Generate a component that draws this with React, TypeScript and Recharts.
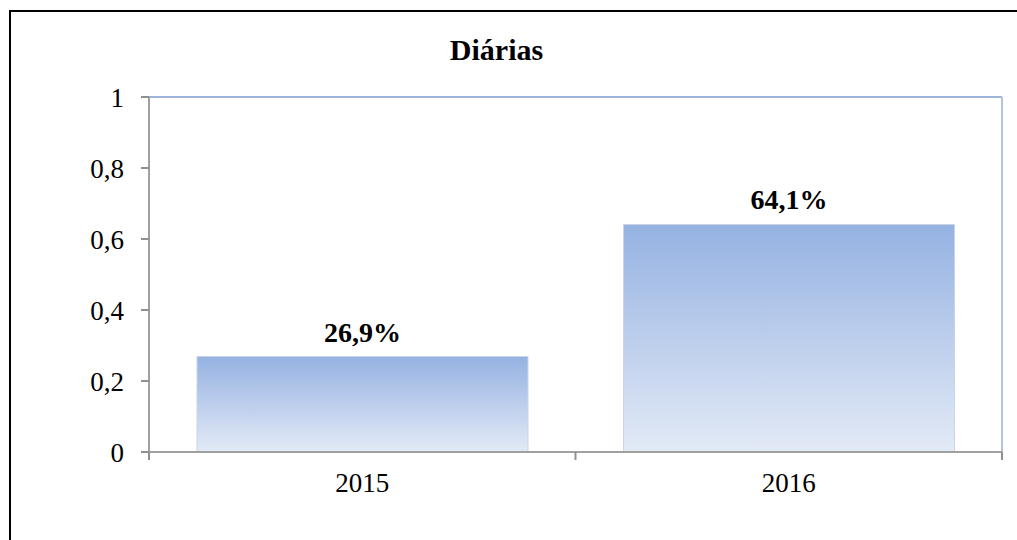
import { Bar, BarChart, LabelList, ReferenceLine, XAxis, YAxis } from "recharts";

// Diárias: participação por ano (fração 0-1).
const YEARS = ["2015", "2016"];
const SHARE = [0.269, 0.641];
const Y_TICKS = [0, 0.2, 0.4, 0.6, 0.8, 1];

const FONT = '"Liberation Serif", "Times New Roman", serif';
const TICK_SIZE = 8;
const TICK_MARGIN = 13;

const data = YEARS.map((year, i) => ({ year, share: SHARE[i] }));

const comma = (v: number) => String(v).replace(".", ",");
const pct = (v: number) => `${(v * 100).toFixed(1).replace(".", ",")}%`;

// Rótulo do eixo X com marcas nas divisas das categorias (estilo Excel).
const YearTick = (props: any) => {
  const { x, y, payload, index, visibleTicksCount } = props;
  const half = payload?.offset ?? 0;
  const axisY = y - TICK_SIZE - TICK_MARGIN;
  const isLast = index === visibleTicksCount - 1;
  return (
    <g>
      <line x1={x - half} x2={x - half} y1={axisY} y2={axisY + TICK_SIZE} stroke="#909090" strokeWidth={2} />
      {isLast && (
        <line x1={x + half} x2={x + half} y1={axisY} y2={axisY + TICK_SIZE} stroke="#909090" strokeWidth={2} />
      )}
      <text
        x={x}
        y={y}
        dy="0.71em"
        textAnchor="middle"
        fontFamily={FONT}
        fontSize={27}
        fill="#000"
      >
        {payload.value}
      </text>
    </g>
  );
};

const App = () => (
  <div
    style={{
      position: "absolute",
      left: 0,
      top: 0,
      width: 1017,
      height: 540,
      overflow: "hidden",
      background: "#fff",
    }}
  >
    {/* moldura externa do gráfico */}
    <div
      style={{
        position: "absolute",
        left: 9,
        top: 10,
        width: 1040,
        height: 600,
        border: "2px solid #000",
      }}
    />
    <div
      style={{
        position: "absolute",
        left: 0,
        top: 35,
        width: 993,
        textAlign: "center",
        fontFamily: FONT,
        fontWeight: "bold",
        fontSize: 30,
        lineHeight: "30px",
        color: "#000",
      }}
    >
      Diárias
    </div>
    <BarChart
      width={1017}
      height={540}
      data={data}
      margin={{ top: 97, right: 15, bottom: 48, left: 0 }}
      barCategoryGap={48}
      style={{ position: "absolute", left: 0, top: 0 }}
    >
      <defs>
        <linearGradient id="barFill" x1="0" y1="0" x2="0" y2="1">
          <stop offset="0%" stopColor="#95b2e2" />
          <stop offset="100%" stopColor="#e3eaf6" />
        </linearGradient>
      </defs>
      <XAxis
        dataKey="year"
        height={40}
        tickSize={TICK_SIZE}
        tickMargin={TICK_MARGIN}
        tick={<YearTick />}
        axisLine={{ stroke: "#a0a0a0", strokeWidth: 2 }}
        tickLine={false}
        interval={0}
      />
      <YAxis
        width={149}
        domain={[0, 1]}
        ticks={Y_TICKS}
        tickSize={8}
        tickMargin={17}
        tickFormatter={comma}
        tick={{ fontFamily: FONT, fontSize: 27, fill: "#000" }}
        axisLine={{ stroke: "#a0a0a0", strokeWidth: 2 }}
        tickLine={{ stroke: "#909090", strokeWidth: 2 }}
      />
      {/* borda superior e direita da área de plotagem */}
      <ReferenceLine y={1} stroke="#9cb3da" strokeWidth={2} />
      <ReferenceLine
        x={YEARS[YEARS.length - 1]}
        position="end"
        stroke="#b4c2da"
        strokeWidth={2}
      />
      <Bar
        dataKey="share"
        fill="url(#barFill)"
        stroke="#c9d4e6"
        strokeWidth={1}
        isAnimationActive={false}
      >
        <LabelList
          dataKey="share"
          position="top"
          offset={15}
          formatter={(v: number) => pct(v)}
          style={{ fontFamily: FONT, fontSize: 28, fontWeight: "bold", fill: "#000" }}
        />
      </Bar>
    </BarChart>
  </div>
);

export default App;
